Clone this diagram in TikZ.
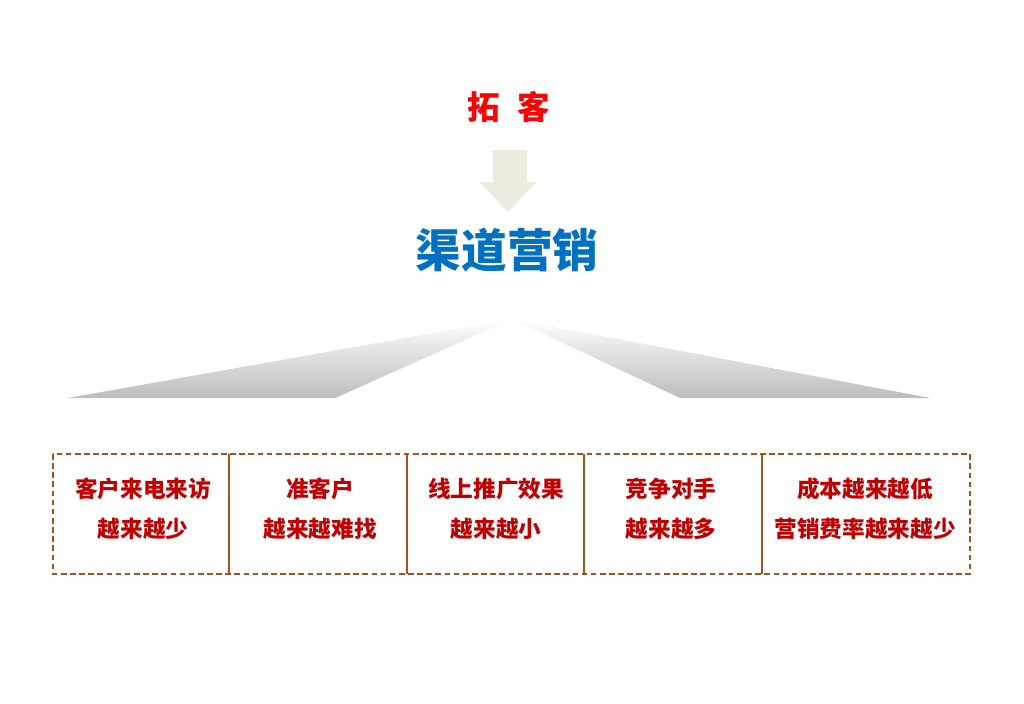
\documentclass[tikz,border=0pt]{standalone}
\usepackage{fontspec}
\newfontfamily\cjk{Noto Sans CJK SC}
\usetikzlibrary{positioning}
\definecolor{TitleRed}{HTML}{FF0000}
\definecolor{DeepBlue}{HTML}{0070C0}
\definecolor{CellRed}{HTML}{C00000}
\definecolor{Frame}{HTML}{A0541E}
\definecolor{ArrowBeige}{HTML}{EEECE1}

\begin{document}
\begin{tikzpicture}[x=0.02cm,y=-0.02cm]
    \tikzset{
      title/.style={font=\cjk\bfseries\fontsize{18.5}{20}\selectfont,text=TitleRed},
      topic/.style={font=\cjk\bfseries\fontsize{26}{28}\selectfont,text=DeepBlue},
      cell/.style={font=\cjk\bfseries\fontsize{12.9}{22.8}\selectfont,text=CellRed,align=center},
      fan/.style={top color=white,bottom color=black!26,shading angle=0},
      frame/.style={Frame,line width=1.5pt}
    }
    \useasboundingbox (0,0) rectangle (1024,703);
    \node[title] (tuoke) at (509,107) {拓\hspace{0.55em}客};
    \node[topic] (qudao) at (507,250) {渠道营销};
    % block arrow between the two titles
    \coordinate (arr) at (508,212);
    \fill[ArrowBeige] (493,150) -- (527,150) -- (527,182) -- (537,182)
      -- (arr) -- (479,182) -- (493,182) -- cycle;
    % fan below
    \coordinate (apex) at (512,319);
    \shade[fan] (apex) -- (68,398) -- (335,398) -- cycle;
    \shade[fan] (apex) -- (680,398) -- (930,398) -- cycle;
    % cells
    \draw[frame,dash pattern=on 3.2pt off 2pt] (53,454) rectangle (970,574);
    \foreach \x in {229,407,584,762}
      \draw[frame] (\x,454) -- (\x,574);
    \node[cell] (c1) at (143,509) {客户来电来访\\越来越少};
    \node[cell] (c2) at (320,509) {准客户\\越来越难找};
    \node[cell] (c3) at (496,509) {线上推广效果\\越来越小};
    \node[cell] (c4) at (671,509) {竞争对手\\越来越多};
    \node[cell] (c5) at (865,509) {成本越来越低\\营销费率越来越少};
  \end{tikzpicture}
\end{document}
